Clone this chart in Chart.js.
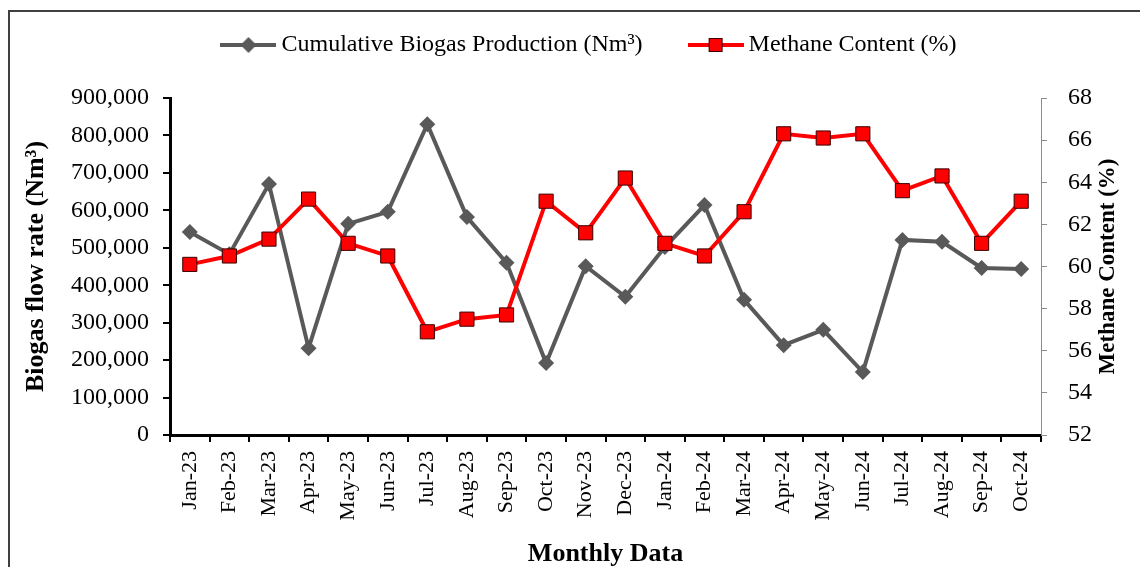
<!DOCTYPE html>
<html lang="en">
<head>
<meta charset="UTF-8">
<title>Biogas Flow and Methane Content</title>
<script src="https://cdn.jsdelivr.net/npm/chart.js"></script>
<style>
  html, body { margin: 0; padding: 0; background: #fff; overflow: hidden; }
  #wrap { width: 1140px; height: 567px; position: relative; }
</style>
</head>
<body>
<div id="wrap"><canvas id="biogasChart"></canvas></div>
<script>
const months = ['Jan-23', 'Feb-23', 'Mar-23', 'Apr-23', 'May-23', 'Jun-23', 'Jul-23', 'Aug-23', 'Sep-23', 'Oct-23', 'Nov-23', 'Dec-23',
  'Jan-24', 'Feb-24', 'Mar-24', 'Apr-24', 'May-24', 'Jun-24', 'Jul-24', 'Aug-24', 'Sep-24', 'Oct-24'];

// cumulative biogas production (Nm3)
const biogasFlow = [542000, 483000, 670000, 232000, 564000, 596000, 830000, 582000, 460000, 192000, 451000, 369000,
  502000, 614000, 361000, 240000, 281000, 168000, 521000, 516000, 446000, 443000];

// methane content (%)
const methaneContent = [60.1, 60.5, 61.3, 63.2, 61.1, 60.5, 56.9, 57.5, 57.7, 63.1, 61.6, 64.2,
  61.1, 60.5, 62.6, 66.3, 66.1, 66.3, 63.6, 64.3, 61.1, 63.1];

const flowRange = [0, 900000, 100000];
const methaneRange = [52, 68, 2];

const serif = '"Liberation Serif", "Times New Roman", serif';
const grey = '#595959';
const red = '#ff0000';

// legend swatches: line with marker, like the original
function swatch(kind) {
  const c = document.createElement('canvas');
  c.width = 56; c.height = 22;
  const g = c.getContext('2d');
  g.lineWidth = 4;
  g.strokeStyle = kind === 'diamond' ? grey : red;
  g.beginPath(); g.moveTo(0, 11); g.lineTo(56, 11); g.stroke();
  if (kind === 'diamond') {
    g.fillStyle = grey;
    g.beginPath(); g.moveTo(28, 3); g.lineTo(36, 11); g.lineTo(28, 19); g.lineTo(20, 11); g.closePath(); g.fill();
  } else {
    g.fillStyle = red; g.strokeStyle = '#3a0000'; g.lineWidth = 1;
    g.fillRect(21, 4, 14, 14); g.strokeRect(21.5, 4.5, 13, 13);
  }
  return c;
}
const legendIcons = [swatch('diamond'), swatch('square')];

const framePlugin = {
  id: 'frame',
  beforeLayout(chart) {
    const lg = chart.legend;
    if (lg && !lg._tallFit) {
      const fit = lg.fit;
      lg.fit = function () { fit.call(this); this.height = 75; };
      lg._tallFit = true;
    }
  },
  afterLayout(chart) {
    if (chart.legend) chart.legend.left += 34;
  },
  beforeDraw(chart) {
    const ctx = chart.ctx;
    ctx.save();
    ctx.fillStyle = '#fff';
    ctx.fillRect(0, 0, chart.width, chart.height);
    ctx.strokeStyle = '#404040';
    ctx.lineWidth = 2;
    ctx.strokeRect(9, 11, chart.width + 20, chart.height + 20);
    ctx.restore();
  },
  afterDraw(chart) {
    // right axis title reads bottom to top
    const ctx = chart.ctx;
    const a = chart.chartArea;
    ctx.save();
    ctx.translate(1108, (a.top + a.bottom) / 2);
    ctx.rotate(-Math.PI / 2);
    ctx.font = 'bold 23px ' + serif;
    ctx.fillStyle = '#000';
    ctx.textAlign = 'center';
    ctx.textBaseline = 'middle';
    ctx.fillText('Methane Content (%)', 0, 0);
    ctx.restore();
  }
};

new Chart(document.getElementById('biogasChart'), {
  type: 'line',
  data: {
    labels: months,
    datasets: [{
      label: 'Cumulative Biogas Production (Nm³)',
      data: biogasFlow,
      yAxisID: 'y',
      borderColor: grey,
      backgroundColor: grey,
      borderWidth: 4,
      pointStyle: 'rectRot',
      pointRadius: 8,
      pointBorderWidth: 0,
      pointBackgroundColor: grey,
      tension: 0,
      order: 2
    }, {
      label: 'Methane Content (%)',
      data: methaneContent,
      yAxisID: 'y1',
      borderColor: red,
      backgroundColor: red,
      borderWidth: 4,
      pointStyle: 'rect',
      pointRadius: 10,
      pointBorderWidth: 1,
      pointBorderColor: '#3a0000',
      pointBackgroundColor: red,
      tension: 0,
      order: 1
    }]
  },
  options: {
    responsive: true,
    maintainAspectRatio: false,
    animation: false,
    layout: { padding: { left: 10, right: 0, top: 23, bottom: 0 } },
    plugins: {
      tooltip: { enabled: false },
      legend: {
        position: 'top',
        labels: {
          usePointStyle: true,
          pointStyleWidth: 42,
          padding: 10,
          color: '#000',
          font: { family: serif, size: 24 },
          generateLabels(chart) {
            return chart.data.datasets.map((ds, i) => ({
              text: ds.label + (i === 0 ? '       ' : ''),
              pointStyle: legendIcons[i],
              fillStyle: ds.borderColor,
              strokeStyle: ds.borderColor,
              lineWidth: 0,
              hidden: !chart.isDatasetVisible(i),
              datasetIndex: i
            }));
          }
        }
      }
    },
    scales: {
      x: {
        offset: true,
        afterFit(s) { s.height = 132; },
        grid: { drawOnChartArea: false, offset: true, tickLength: 7, color: '#000', lineWidth: 2 },
        border: { color: '#000', width: 3 },
        ticks: {
          autoSkip: false, minRotation: 90, maxRotation: 90, padding: 9,
          color: '#000', font: { family: serif, size: 22 }
        },
        title: {
          display: true, text: 'Monthly Data', color: '#000',
          font: { family: serif, size: 26, weight: 'bold', lineHeight: 1 },
          padding: { top: 0, bottom: 0 }
        }
      },
      y: {
        position: 'left',
        min: flowRange[0], max: flowRange[1],
        afterFit(s) { s.width = 160; },
        grid: { drawOnChartArea: false, tickLength: 7, color: '#000', lineWidth: 2 },
        border: { color: '#000', width: 3 },
        ticks: {
          stepSize: flowRange[2], padding: 14, color: '#000',
          font: { family: serif, size: 24 },
          callback: v => v.toLocaleString('en-US')
        },
        title: {
          display: true, text: 'Biogas flow rate (Nm³)', color: '#000',
          font: { family: serif, size: 26, weight: 'bold', lineHeight: 1.2 },
          padding: { top: 11, bottom: 0 }
        }
      },
      y1: {
        position: 'right',
        min: methaneRange[0], max: methaneRange[1],
        afterFit(s) { s.width = 99; },
        grid: { drawOnChartArea: false, tickLength: 6, color: '#8c8c8c', lineWidth: 1 },
        border: { color: '#8c8c8c', width: 1 },
        ticks: {
          stepSize: methaneRange[2], padding: 21, color: '#000',
          font: { family: serif, size: 24 }
        }
      }
    }
  },
  plugins: [framePlugin]
});
</script>
</body>
</html>
